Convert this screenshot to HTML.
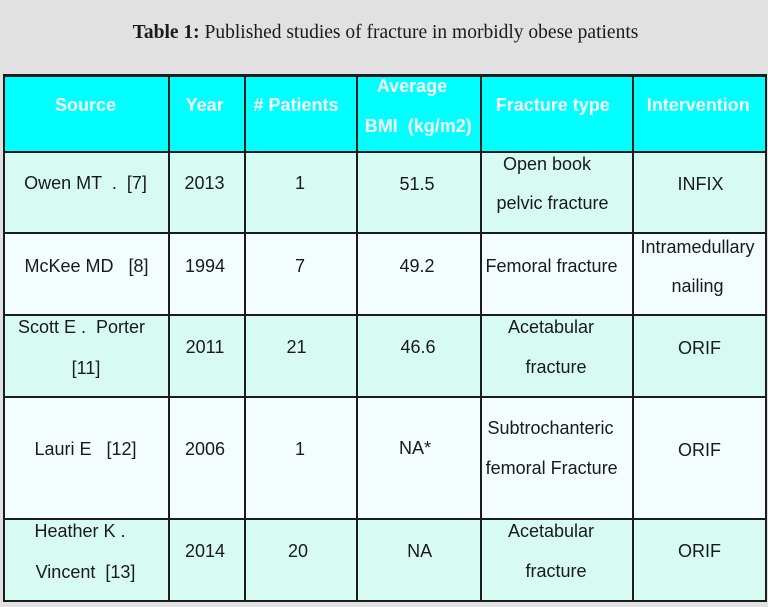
<!DOCTYPE html>
<html><head><meta charset="utf-8"><style>
html,body{margin:0;padding:0}
body{width:768px;height:607px;position:relative;overflow:hidden;background:#e1e1e1;font-family:"Liberation Sans",Arial,sans-serif}
.bg{position:absolute}
.v{position:absolute;width:2px;background:#1c1c1c;top:74px;height:528px}
.h{position:absolute;height:2px;background:#1c1c1c;left:3px;width:764px}
.t{position:absolute;width:400px;height:20px;line-height:20px;text-align:center;white-space:pre;font-size:18px;color:#1a1a1a}
.w{color:#fafffe;font-weight:bold}
.title{position:absolute;left:0;width:771px;top:22px;line-height:22px;height:22px;text-align:center;font-family:"Liberation Serif","Times New Roman",serif;font-size:19.5px;color:#1a1a1a;white-space:pre}
</style></head><body>
<div class="title"><b>Table 1:</b> Published studies of fracture in morbidly obese patients</div>

<div class="bg" style="left:4px;top:75px;width:762px;height:77px;background:#00ffff"></div>
<div class="bg" style="left:4px;top:152px;width:762px;height:81px;background:#d7faf2"></div>
<div class="bg" style="left:4px;top:233px;width:762px;height:82px;background:#f4fdfd"></div>
<div class="bg" style="left:4px;top:315px;width:762px;height:82px;background:#d7faf2"></div>
<div class="bg" style="left:4px;top:397px;width:762px;height:122px;background:#f4fdfd"></div>
<div class="bg" style="left:4px;top:519px;width:762px;height:82px;background:#d7faf2"></div>

<div class="h" style="top:73.5px;height:3px"></div>
<div class="h" style="top:151px"></div>
<div class="h" style="top:232px"></div>
<div class="h" style="top:314px"></div>
<div class="h" style="top:395.5px"></div>
<div class="h" style="top:518px"></div>
<div class="h" style="top:600px"></div>

<div class="v" style="left:3px"></div>
<div class="v" style="left:167.5px"></div>
<div class="v" style="left:244px"></div>
<div class="v" style="left:356px"></div>
<div class="v" style="left:480px"></div>
<div class="v" style="left:632px"></div>
<div class="v" style="left:764.5px"></div>

<!-- header -->
<div class="t w" style="left:-114.5px;top:95px">Source</div>
<div class="t w" style="left:4.7px;top:95px">Year</div>
<div class="t w" style="left:96px;top:95px"># Patients</div>
<div class="t w" style="left:212px;top:75.5px">Average</div>
<div class="t w" style="left:218.3px;top:115.5px">BMI  (kg/m2)</div>
<div class="t w" style="left:352.8px;top:95px">Fracture type</div>
<div class="t w" style="left:498.3px;top:95px">Intervention</div>

<!-- row 1 -->
<div class="t" style="left:-114.5px;top:173.3px">Owen MT  .  [7]</div>
<div class="t" style="left:4.5px;top:173.3px">2013</div>
<div class="t" style="left:100px;top:173.3px">1</div>
<div class="t" style="left:217px;top:173.5px">51.5</div>
<div class="t" style="left:347px;top:154.2px">Open book</div>
<div class="t" style="left:352.5px;top:193px">pelvic fracture</div>
<div class="t" style="left:500.5px;top:174px">INFIX</div>

<!-- row 2 -->
<div class="t" style="left:-113.5px;top:255.8px">McKee MD   [8]</div>
<div class="t" style="left:5px;top:255.8px">1994</div>
<div class="t" style="left:100px;top:255.8px">7</div>
<div class="t" style="left:217px;top:256px">49.2</div>
<div class="t" style="left:351.5px;top:256px">Femoral fracture</div>
<div class="t" style="left:497.5px;top:236.5px">Intramedullary</div>
<div class="t" style="left:497.5px;top:276px">nailing</div>

<!-- row 3 -->
<div class="t" style="left:-118.5px;top:316.7px">Scott E .  Porter</div>
<div class="t" style="left:-114px;top:358px">[11]</div>
<div class="t" style="left:5px;top:336.7px">2011</div>
<div class="t" style="left:96.5px;top:336.7px">21</div>
<div class="t" style="left:218px;top:337.3px">46.6</div>
<div class="t" style="left:351px;top:316.7px">Acetabular</div>
<div class="t" style="left:356px;top:357.3px">fracture</div>
<div class="t" style="left:499.5px;top:337.8px">ORIF</div>

<!-- row 4 -->
<div class="t" style="left:-114.5px;top:438.8px">Lauri E   [12]</div>
<div class="t" style="left:5px;top:438.8px">2006</div>
<div class="t" style="left:100px;top:438.8px">1</div>
<div class="t" style="left:215px;top:438.3px">NA*</div>
<div class="t" style="left:350.5px;top:418.3px">Subtrochanteric</div>
<div class="t" style="left:351.7px;top:458.3px">femoral Fracture</div>
<div class="t" style="left:499.5px;top:439.5px">ORIF</div>

<!-- row 5 -->
<div class="t" style="left:-120px;top:521px">Heather K .</div>
<div class="t" style="left:-114.5px;top:561.7px">Vincent  [13]</div>
<div class="t" style="left:5px;top:541px">2014</div>
<div class="t" style="left:98px;top:541px">20</div>
<div class="t" style="left:219.7px;top:540.7px">NA</div>
<div class="t" style="left:351px;top:520.7px">Acetabular</div>
<div class="t" style="left:356px;top:561px">fracture</div>
<div class="t" style="left:499.5px;top:541px">ORIF</div>
</body></html>
